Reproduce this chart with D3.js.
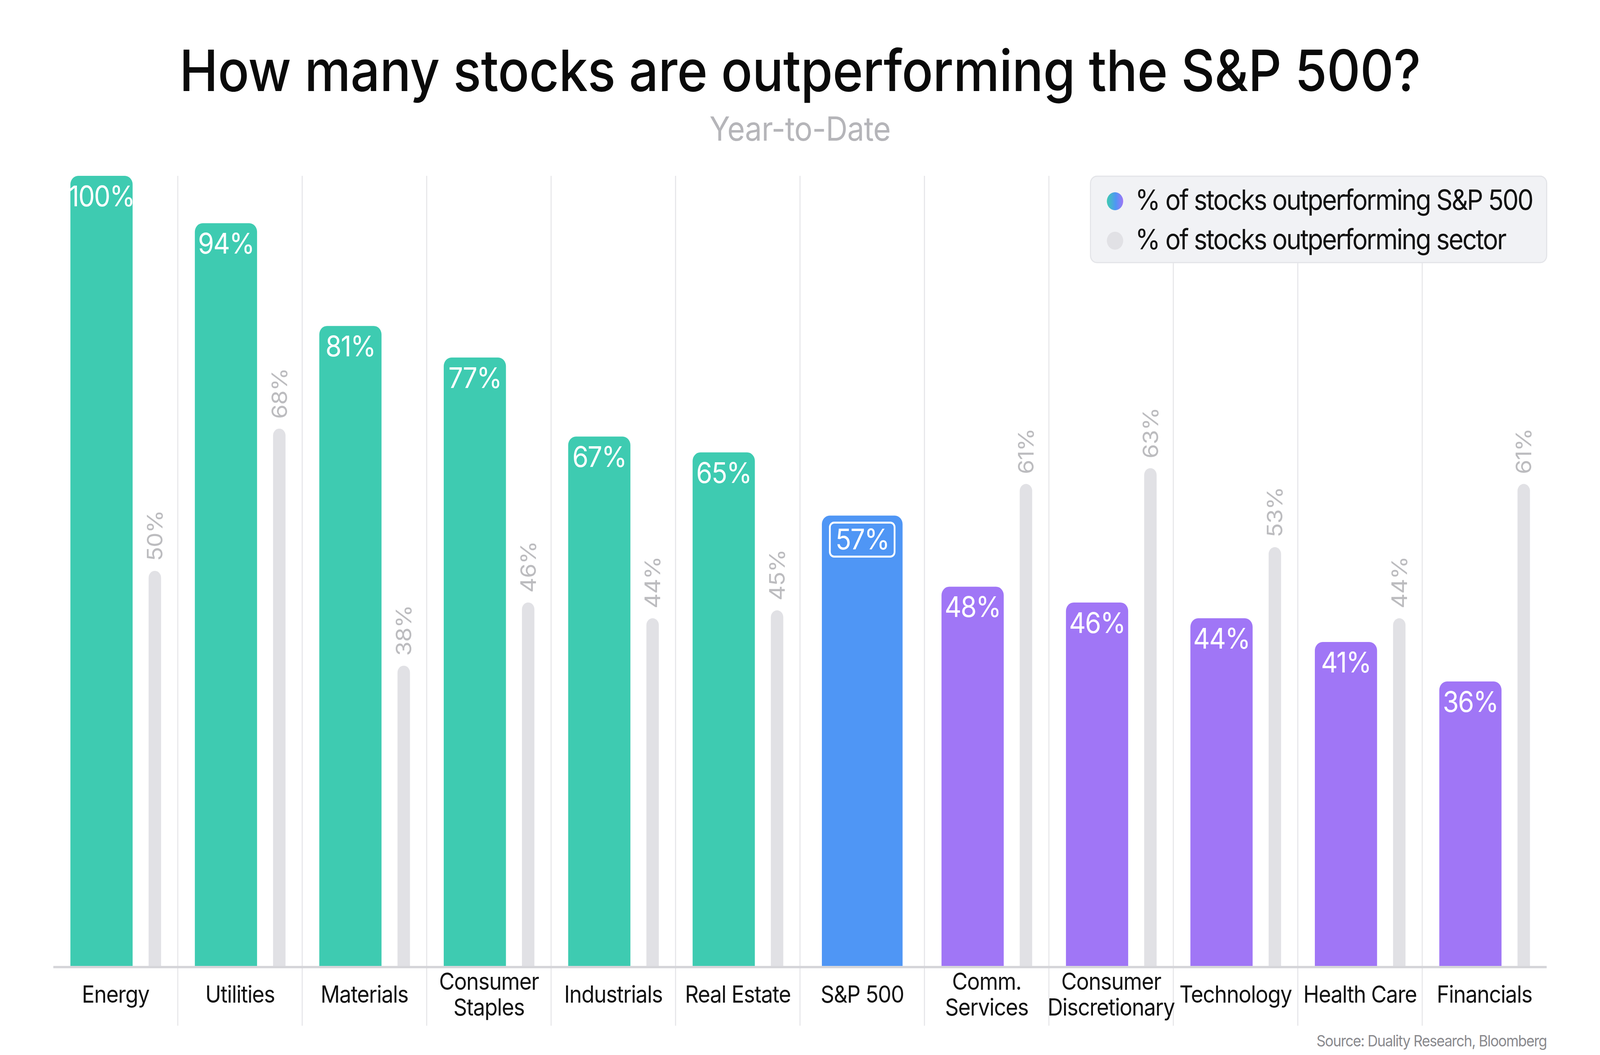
<!DOCTYPE html>
<html>
<head>
<meta charset="utf-8">
<script src="https://cdn.jsdelivr.net/npm/d3@7"></script>
<style>
  html, body { margin: 0; padding: 0; background: #fff; overflow: hidden; }
  svg { display: block; font-family: Inter, "Noto Sans", sans-serif; }
</style>
</head>
<body>
<div id="chart"></div>
<script>
// sectors and values
var sectors = ["Energy", "Utilities", "Materials", "Consumer Staples", "Industrials", "Real Estate",
               "S&P 500", "Comm. Services", "Consumer Discretionary", "Technology", "Health Care", "Financials"];
var sectorLines = [["Energy"], ["Utilities"], ["Materials"], ["Consumer", "Staples"], ["Industrials"], ["Real Estate"],
                   ["S&P 500"], ["Comm.", "Services"], ["Consumer", "Discretionary"], ["Technology"], ["Health Care"], ["Financials"]];
var pctVsSP = [100, 94, 81, 77, 67, 65, 57, 48, 46, 44, 41, 36];
var pctVsSector = [50, 68, 38, 46, 44, 45, null, 61, 63, 53, 44, 61];
var legendLabels = ["% of stocks outperforming S&P 500", "% of stocks outperforming sector"];

var W = 4500, H = 2700;
var plotLeft = 150, plotRight = 4350, plotTop = 450, base = 2472;

var teal = "#3ecbb1", blue = "#4f96f5", purple = "#a076f6", lightGray = "#e1e1e5";

// drawn in a fixed 4500x2700 frame, stretched to the window
var svg = d3.select("#chart").append("svg")
    .attr("viewBox", "0 0 " + W + " " + H)
    .attr("preserveAspectRatio", "none")
    .style("width", "100vw")
    .style("height", "100vh");

var x = d3.scaleBand().domain(sectors).range([plotLeft, plotRight]);
var y = d3.scaleLinear().domain([0, 100]).range([base, plotTop]);
var bw = x.bandwidth();
var spIndex = sectors.indexOf("S&P 500");
var spVal = pctVsSP[spIndex];

// bar with rounded top corners only
function topRounded(x0, y0, w, h, r) {
  r = Math.min(r, w / 2, h);
  return "M" + x0 + "," + (y0 + h) +
    "V" + (y0 + r) +
    "A" + r + "," + r + " 0 0 1 " + (x0 + r) + "," + y0 +
    "H" + (x0 + w - r) +
    "A" + r + "," + r + " 0 0 1 " + (x0 + w) + "," + (y0 + r) +
    "V" + (y0 + h) + "Z";
}

// title
svg.append("text")
    .attr("x", W / 2).attr("y", 233)
    .attr("text-anchor", "middle")
    .attr("font-size", 146)
    .attr("font-weight", 500)
    .attr("letter-spacing", "-0.004em")
    .attr("fill", "#0a0a0a")
    .text("How many stocks are outperforming the S&P 500?");

svg.append("text")
    .attr("x", W / 2).attr("y", 360)
    .attr("text-anchor", "middle")
    .attr("font-size", 85)
    .attr("letter-spacing", "-0.01em")
    .attr("fill", "#b5b5b9")
    .text("Year-to-Date");

// vertical separators between sectors
svg.append("g").selectAll("line")
  .data(sectors.slice(1))
  .join("line")
    .attr("x1", function(d) { return x(d); })
    .attr("x2", function(d) { return x(d); })
    .attr("y1", plotTop)
    .attr("y2", 2625)
    .attr("stroke", "#e6e6e9")
    .attr("stroke-width", 3);

// legend
var lg = svg.append("g");
var defs = svg.append("defs");
var grad = defs.append("linearGradient").attr("id", "lgGrad")
    .attr("x1", "0%").attr("x2", "100%").attr("y1", "0%").attr("y2", "0%");
grad.append("stop").attr("offset", "0%").attr("stop-color", teal);
grad.append("stop").attr("offset", "55%").attr("stop-color", blue);
grad.append("stop").attr("offset", "100%").attr("stop-color", purple);

lg.append("rect")
    .attr("x", 3067).attr("y", 451)
    .attr("width", 1283).attr("height", 221)
    .attr("rx", 18)
    .attr("fill", "#f1f2f5")
    .attr("stroke", "#e3e4e8")
    .attr("stroke-width", 3);

lg.selectAll("circle")
  .data(legendLabels)
  .join("circle")
    .attr("cx", 3136)
    .attr("cy", function(d, i) { return 515 + i * 101; })
    .attr("r", 23)
    .attr("fill", function(d, i) { return i === 0 ? "url(#lgGrad)" : lightGray; });

lg.selectAll("text")
  .data(legendLabels)
  .join("text")
    .attr("x", 3193)
    .attr("y", function(d, i) { return 537 + i * 101; })
    .attr("font-size", 72)
    .attr("letter-spacing", "-0.045em")
    .attr("fill", "#111")
    .text(function(d) { return d; });

// gray bars: % outperforming own sector
var grayData = sectors.map(function(s, i) { return { s: s, v: pctVsSector[i] }; })
    .filter(function(d) { return d.v !== null; });

svg.append("g").selectAll("path")
  .data(grayData)
  .join("path")
    .attr("fill", lightGray)
    .attr("d", function(d) {
      return topRounded(x(d.s) + 268, y(d.v), 35, base - y(d.v), 17.5);
    });

svg.append("g").selectAll("text")
  .data(grayData)
  .join("text")
    .attr("transform", function(d) {
      return "translate(" + (x(d.s) + 285.5) + "," + (y(d.v) - 25) + ") rotate(-90)";
    })
    .attr("dy", "0.36em")
    .attr("font-size", 60)
    .attr("letter-spacing", "-0.02em")
    .attr("fill", "#bcbcbf")
    .text(function(d) { return d.v + "%"; });

// main bars: % outperforming S&P 500
var mainData = sectors.map(function(s, i) { return { s: s, v: pctVsSP[i], sp: i === spIndex }; });

function barColor(d) {
  if (d.sp) return blue;
  return d.v > spVal ? teal : purple;
}
function barX(d) { return d.sp ? x(d.s) + (bw - 227) / 2 : x(d.s) + 48; }
function barW(d) { return d.sp ? 227 : 175; }

svg.append("g").selectAll("path")
  .data(mainData)
  .join("path")
    .attr("fill", barColor)
    .attr("d", function(d) {
      return topRounded(barX(d), y(d.v), barW(d), base - y(d.v), 22);
    });

// outline box around the S&P 500 label
svg.append("rect")
    .datum(mainData[spIndex])
    .attr("x", function(d) { return x(d.s) + bw / 2 - 91; })
    .attr("y", function(d) { return y(d.v) + 18; })
    .attr("width", 182)
    .attr("height", 87)
    .attr("rx", 12)
    .attr("fill", "none")
    .attr("stroke", "#fff")
    .attr("stroke-width", 5);

svg.append("g").selectAll("text")
  .data(mainData)
  .join("text")
    .attr("x", function(d) { return barX(d) + barW(d) / 2; })
    .attr("y", function(d) { return y(d.v) + (d.sp ? 87 : 78); })
    .attr("text-anchor", "middle")
    .attr("font-size", 73)
    .attr("letter-spacing", "-0.03em")
    .attr("fill", "#fff")
    .text(function(d) { return d.v + "%"; });

// baseline + category axis
svg.append("rect")
    .attr("x", plotLeft).attr("y", base)
    .attr("width", plotRight - plotLeft).attr("height", 6)
    .attr("fill", "#d5d5d9");

var xAxis = svg.append("g")
    .attr("transform", "translate(0," + (base + 6) + ")")
    .call(d3.axisBottom(x).tickSize(0).tickFormat(""));
xAxis.select(".domain").remove();
xAxis.attr("font-family", null).attr("font-size", null);

xAxis.selectAll(".tick").each(function(d) {
  var lines = sectorLines[sectors.indexOf(d)];
  var t = d3.select(this).append("text")
      .attr("fill", "#111")
      .attr("font-size", 60)
      .attr("letter-spacing", "-0.025em")
      .attr("text-anchor", "middle");
  lines.forEach(function(l, i) {
    var yy = lines.length === 1 ? 88 : 55 + i * 66;
    t.append("tspan").attr("x", 0).attr("y", yy).text(l);
  });
});

// source note
svg.append("text")
    .attr("x", plotRight).attr("y", 2678)
    .attr("text-anchor", "end")
    .attr("font-size", 40)
    .attr("letter-spacing", "-0.04em")
    .attr("fill", "#8a8a8e")
    .text("Source: Duality Research, Bloomberg");
</script>
</body>
</html>
